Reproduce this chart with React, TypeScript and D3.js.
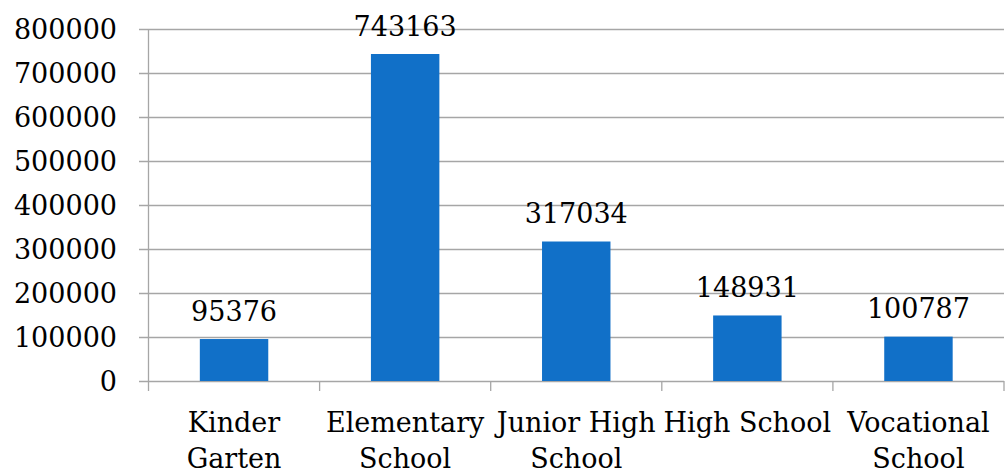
import { useEffect, useRef } from 'react';
import * as d3 from 'd3';

const categories = ['Kinder Garten', 'Elementary School', 'Junior High School', 'High School', 'Vocational School'];
const categoryLines = [['Kinder', 'Garten'], ['Elementary', 'School'], ['Junior High', 'School'], ['High School'], ['Vocational', 'School']];
const students = [95376, 743163, 317034, 148931, 100787];
const yTicks = [0, 100000, 200000, 300000, 400000, 500000, 600000, 700000, 800000];

const W = 1005, H = 472;
const FONT = '"DejaVu Serif", serif';
const BAR = '#1170C8';
const GRID = '#A6A6A6';

export default function App() {
  const svgRef = useRef<SVGSVGElement>(null);

  useEffect(() => {
    if (!svgRef.current) return;
    const svg = d3.select(svgRef.current);
    svg.selectAll('*').remove();

    const left = 148.5, right = 1004, top = 29, bottom = 381;

    const x = d3.scaleBand<string>().domain(categories).range([left, right]).padding(0);
    const y = d3.scaleLinear().domain([0, 800000]).range([bottom, top]);

    // gridlines + y labels
    yTicks.forEach((t) => {
      svg.append('line')
        .attr('x1', 139).attr('x2', right)
        .attr('y1', Math.round(y(t)) + 0.5).attr('y2', Math.round(y(t)) + 0.5)
        .attr('stroke', GRID).attr('stroke-width', 1.3);
      svg.append('text')
        .attr('x', 117).attr('y', y(t) + 10)
        .attr('text-anchor', 'end')
        .attr('font-family', FONT).attr('font-size', 27)
        .attr('fill', '#000')
        .text(t);
    });

    // y axis
    svg.append('line')
      .attr('x1', left).attr('x2', left).attr('y1', top).attr('y2', bottom)
      .attr('stroke', GRID).attr('stroke-width', 1.3);

    // category ticks
    categories.concat(['__end']).forEach((c, i) => {
      const cx = i < categories.length ? x(c)! : right;
      svg.append('line')
        .attr('x1', cx).attr('x2', cx).attr('y1', bottom).attr('y2', 391)
        .attr('stroke', GRID).attr('stroke-width', 1.3);
    });

    const bw = x.bandwidth() * 0.4;
    categories.forEach((c, i) => {
      const cx = x(c)! + x.bandwidth() / 2;
      svg.append('rect')
        .attr('x', cx - bw / 2).attr('y', y(students[i]))
        .attr('width', bw).attr('height', bottom - y(students[i]))
        .attr('fill', BAR);
      svg.append('text')
        .attr('x', cx).attr('y', y(students[i]) - 18.5)
        .attr('text-anchor', 'middle')
        .attr('font-family', FONT).attr('font-size', 27)
        .text(students[i]);
      categoryLines[i].forEach((ln, j) => {
        svg.append('text')
          .attr('x', cx).attr('y', 432 + j * 36)
          .attr('text-anchor', 'middle')
          .attr('font-family', FONT).attr('font-size', 27)
          .text(ln);
      });
    });
  }, []);

  return (
    <svg
      ref={svgRef}
      width={W}
      height={H}
      viewBox={`0 0 ${W} ${H}`}
      style={{ position: 'absolute', left: 0, top: 0, background: '#fff' }}
    />
  );
}
